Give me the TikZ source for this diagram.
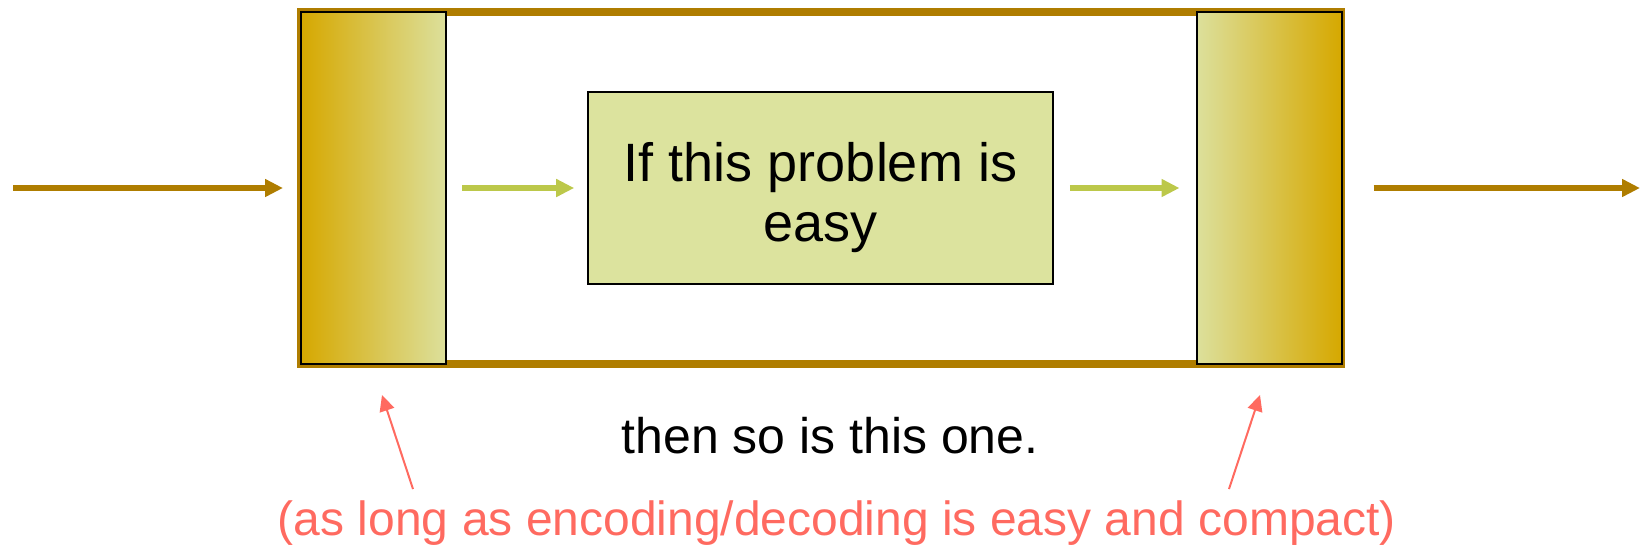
\documentclass[tikz,border=0pt]{standalone}
\usepackage{fontspec}
\setmainfont{Liberation Sans}
\usetikzlibrary{arrows.meta, positioning}

\definecolor{framebrown}{RGB}{175,125,0}
\definecolor{codegold}{RGB}{214,168,0}
\definecolor{codepale}{RGB}{220,224,156}
\definecolor{easyfill}{RGB}{220,227,158}
\definecolor{easygreen}{RGB}{188,200,74}
\definecolor{notered}{RGB}{255,106,96}

\begin{document}
\begin{tikzpicture}[x=0.5pt, y=-0.5pt,
    codebox/.style={draw=black, line width=1pt, minimum width=72.5pt, minimum height=176pt, inner sep=0pt},
    easybox/.style={draw=black, line width=0.8pt, fill=easyfill, minimum width=232.5pt, minimum height=96pt,
        align=center, font=\fontsize{27}{30}\selectfont},
    mainarrow/.style={-{Triangle[length=9pt, width=8.5pt]}, framebrown, line width=3pt},
    innerarrow/.style={-{Triangle[length=9pt, width=8.5pt]}, easygreen, line width=3pt},
    notearrow/.style={-{Triangle[length=8pt, width=7.5pt]}, notered, line width=1pt}]
    \useasboundingbox (0,0) rectangle (1640,548);

    % Outer frame
    \draw[framebrown, line width=4pt] (301,12) rectangle (1341,364);

    % Encoder and decoder
    \node[codebox, left color=codegold, right color=codepale] (enc) at (373.5,188) {};
    \node[codebox, left color=codepale, right color=codegold] (dec) at (1269,188) {};

    % The easy problem
    \node[easybox] (easy) at (820.5,188) {\rule{0pt}{29.5pt}If this problem is\\easy};

    % Input and output
    \coordinate (in) at (13,188);
    \coordinate (out) at (1640,188);
    \draw[mainarrow, shorten >=8.5pt] (in) -- (enc);
    \draw[mainarrow, shorten <=15.5pt] (dec) -- (out);
    \draw[innerarrow, shorten <=7.5pt, shorten >=6.5pt] (enc) -- (easy);
    \draw[innerarrow, shorten <=8pt, shorten >=8pt] (easy) -- (dec);

    % Texts below
    \node[anchor=base, font=\fontsize{25}{28}\selectfont] (then) at (830,453) {then so is this one.};
    \node[anchor=base, notered, font=\fontsize{24}{28}\selectfont] (note) at (837,535)
        {(as long as encoding/decoding is easy and compact)};

    % Pointers
    \coordinate (lnote) at (413,489);
    \coordinate (lhit) at (382,395);
    \coordinate (rnote) at (1229,489);
    \coordinate (rhit) at (1260,395);
    \draw[notearrow] (lnote) -- (lhit);
    \draw[notearrow] (rnote) -- (rhit);
\end{tikzpicture}
\end{document}
